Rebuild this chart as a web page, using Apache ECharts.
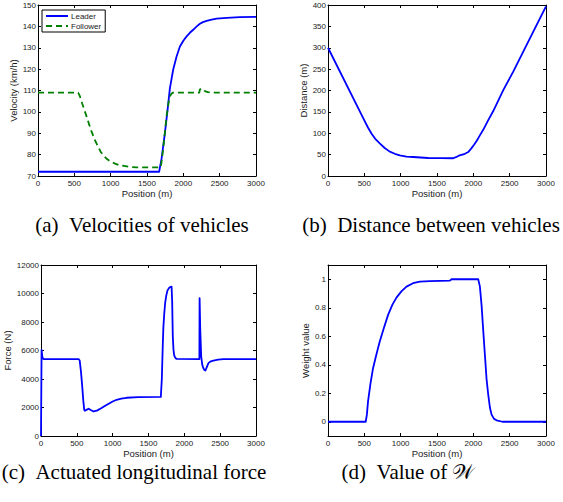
<!DOCTYPE html>
<html>
<head>
<meta charset="utf-8">
<script src="https://cdn.jsdelivr.net/npm/echarts@6/dist/echarts.min.js"></script>
<style>
  html, body { margin: 0; padding: 0; background: #fff; }
  #chart { width: 563px; height: 502px; }
</style>
</head>
<body>
<div id="chart"></div>
<script>
// Shared position ticks (m)
const positionTicks = [0, 500, 1000, 1500, 2000, 2500, 3000];

// (a) Velocities of vehicles (km/h)
const leaderPos = [0, 1667, 1700, 1746, 1780, 1815, 1860, 1907, 1953, 2000, 2045, 2090, 2136, 2180, 2228, 2270, 2320, 2390, 2458, 2596, 2779, 3000];
const leaderVel = [72, 72, 78, 90, 100, 111, 119.7, 125.9, 130.6, 133.3, 135.3, 137.0, 138.4, 139.9, 141.2, 142.0, 142.6, 143.2, 143.6, 144.0, 144.3, 144.4];
const followerPos = [0, 551, 565, 580, 607, 637, 667, 700, 735, 780, 827, 860, 896, 940, 988, 1060, 1126, 1250, 1356, 1687, 1700, 1720, 1745, 1769, 1800, 1820, 1838, 1860, 2220, 2228, 2250, 2270, 2290, 2315, 2340, 2400, 3000];
const followerVel = [109, 109, 108.2, 107, 104, 101, 98, 94.5, 91, 87, 83.7, 81.5, 79.8, 78.2, 77, 75.8, 75, 74.3, 74, 74, 76.5, 82, 90, 98, 105, 107.5, 108.6, 109, 109, 110.5, 111, 110.4, 109.9, 109.5, 109.2, 109, 109];

// (b) Distance between vehicles (m)
const distPos = [0, 500, 550, 600, 650, 712, 780, 850, 920, 988, 1080, 1171, 1378, 1550, 1723, 1760, 1800, 1884, 1930, 1970, 2010, 2045, 2090, 2136, 2200, 2274, 2412, 2549, 2687, 2825, 3000];
const distVal = [300, 130, 113.5, 99, 87, 76.5, 65.5, 57, 52, 48.3, 45.5, 44.4, 42.1, 42, 41.5, 44, 47.5, 52, 56, 64, 73, 82, 95, 108, 129, 152, 201, 244, 291, 337.6, 397];

// (c) Actuated longitudinal force (N)
const forcePos = [0, 8, 20, 35, 524, 540, 558, 575, 590, 603, 613, 640, 664, 695, 733, 780, 845, 890, 938, 1000, 1054, 1120, 1193, 1356, 1672, 1686, 1700, 1708, 1720, 1732, 1748, 1764, 1785, 1800, 1822, 1830, 1839, 1848, 1857, 1870, 1880, 1895, 2210, 2213, 2222, 2235, 2250, 2266, 2280, 2294, 2315, 2336, 2370, 2405, 2470, 2545, 3000];
const forceVal = [0, 6050, 5500, 5400, 5400, 5300, 4500, 3500, 2500, 1850, 1772, 1850, 1912, 1820, 1720, 1780, 1961, 2100, 2242, 2420, 2543, 2630, 2683, 2732, 2740, 4000, 6500, 7678, 8600, 9317, 9850, 10200, 10380, 10450, 10480, 9500, 6977, 6100, 5695, 5520, 5450, 5415, 5400, 9667, 7500, 5600, 5000, 4750, 4630, 4596, 4850, 5114, 5240, 5296, 5360, 5394, 5400];

// (d) Value of W
const weightPos = [0, 519, 535, 551, 585, 620, 665, 712, 770, 827, 885, 942, 1010, 1080, 1170, 1264, 1400, 1677, 1700, 2067, 2090, 2113, 2135, 2159, 2182, 2205, 2228, 2251, 2285, 2320, 2400, 3000];
const weightVal = [0, 0, 0.05, 0.143, 0.27, 0.376, 0.47, 0.563, 0.66, 0.75, 0.82, 0.871, 0.915, 0.948, 0.972, 0.983, 0.987, 0.99, 1.0, 1.0, 0.95, 0.82, 0.65, 0.47, 0.3, 0.19, 0.1, 0.05, 0.02, 0.01, 0, 0];
const weightTicks = [0, 0.2, 0.4, 0.6, 0.8, 1];

const pairs = (xs, ys) => xs.map((x, i) => [x, ys[i]]);

const SANS = 'Liberation Sans, Arial, Helvetica, sans-serif';
const SERIF = 'Liberation Serif, Times New Roman, serif';
const INK = '#1a1a1a';
const BLUE = '#0000ff';
const GREEN = '#008000';

const grids = [
  { left: 38, top: 5, width: 218, height: 171 },
  { left: 328, top: 5, width: 218, height: 171 },
  { left: 41, top: 265, width: 215, height: 171 },
  { left: 328, top: 265, width: 218, height: 171 }
];

const plain = v => String(+v.toFixed(6));
const tickStyle = { show: true, inside: true, length: 3, lineStyle: { color: '#000', width: 1 } };
const lineStyleAxis = { show: true, onZero: false, lineStyle: { color: '#000', width: 1 } };

const xAxes = [];
const yAxes = [];
function addPanel(gi, yMin, yMax, yInterval, yName, yNameGap, yCustom) {
  // bottom axis with labels
  xAxes.push({
    gridIndex: gi, type: 'value', min: 0, max: 3000, interval: 500, position: 'bottom',
    name: 'Position (m)', nameLocation: 'middle', nameGap: 12,
    nameTextStyle: { fontFamily: SANS, fontSize: 9.5, color: INK },
    axisLine: lineStyleAxis, axisTick: tickStyle,
    axisLabel: { fontFamily: SANS, fontSize: 8, color: INK, margin: 3,
      customValues: positionTicks, formatter: plain },
    splitLine: { show: false }
  });
  // top axis: ticks only
  xAxes.push({
    gridIndex: gi, type: 'value', min: 0, max: 3000, interval: 500, position: 'top',
    axisLine: lineStyleAxis, axisTick: tickStyle, axisLabel: { show: false },
    splitLine: { show: false }
  });
  const yLeft = {
    gridIndex: gi, type: 'value', min: yMin, max: yMax, position: 'left',
    name: yName, nameLocation: 'middle', nameGap: yNameGap, nameRotate: 90,
    nameTextStyle: { fontFamily: SANS, fontSize: 9.5, color: INK },
    axisLine: lineStyleAxis, axisTick: tickStyle,
    axisLabel: { fontFamily: SANS, fontSize: 8, color: INK, margin: 2, formatter: plain },
    splitLine: { show: false }
  };
  const yRight = {
    gridIndex: gi, type: 'value', min: yMin, max: yMax, position: 'right',
    axisLine: lineStyleAxis, axisTick: tickStyle, axisLabel: { show: false },
    splitLine: { show: false }
  };
  if (yCustom) {
    yLeft.axisTick = Object.assign({}, tickStyle, { customValues: yCustom });
    yLeft.axisLabel.customValues = yCustom;
    yRight.axisTick = Object.assign({}, tickStyle, { customValues: yCustom });
  } else {
    yLeft.interval = yInterval;
    yRight.interval = yInterval;
  }
  yAxes.push(yLeft, yRight);
}

addPanel(0, 70, 150, 10, 'Velocity (km/h)', 19);
addPanel(1, 0, 400, 50, 'Distance (m)', 19);
addPanel(2, 0, 12000, 2000, 'Force (N)', 29);
addPanel(3, -0.1, 1.1, null, 'Weight value', 17, weightTicks);

function line(name, gi, data, color, dashed) {
  return {
    name, type: 'line', xAxisIndex: gi * 2, yAxisIndex: gi * 2,
    data, symbol: 'none', showSymbol: false, smooth: false, animation: false,
    lineStyle: { color, width: 1.8, type: dashed ? [6, 4] : 'solid', join: 'round' },
    itemStyle: { color }
  };
}

const captions = [
  { text: '(a)\u2002Velocities of vehicles', x: 142, y: 225 },
  { text: '(b)\u2002Distance between vehicles', x: 431, y: 225 },
  { text: '(c)\u2002Actuated longitudinal force', x: 134, y: 472 },
  { text: '(d)\u2002Value of \uD835\uDCB2', x: 408, y: 472 }
];

const chart = echarts.init(document.getElementById('chart'), null, { renderer: 'svg' });
chart.setOption({
  backgroundColor: '#fff',
  animation: false,
  grid: grids,
  xAxis: xAxes,
  yAxis: yAxes,
  legend: {
    data: ['Leader', 'Follower'],
    orient: 'vertical',
    left: 42, top: 10,
    padding: [2, 4, 2, 3],
    itemGap: 2,
    itemWidth: 22, itemHeight: 8,
    backgroundColor: '#fff',
    borderColor: '#000', borderWidth: 1, borderRadius: 0,
    itemStyle: { opacity: 0 },
    textStyle: { fontFamily: SANS, fontSize: 8, color: INK, padding: [0, 0, 0, -2] }
  },
  series: [
    line('Leader', 0, pairs(leaderPos, leaderVel), BLUE, false),
    line('Follower', 0, pairs(followerPos, followerVel), GREEN, true),
    line('Distance', 1, pairs(distPos, distVal), BLUE, false),
    line('Force', 2, pairs(forcePos, forceVal), BLUE, false),
    line('Weight', 3, pairs(weightPos, weightVal), BLUE, false)
  ],
  graphic: captions.map(c => ({
    type: 'text', x: c.x, y: c.y,
    style: { text: c.text, fill: '#000', font: '21px ' + SERIF, align: 'center', verticalAlign: 'middle' }
  }))
});
</script>
</body>
</html>
